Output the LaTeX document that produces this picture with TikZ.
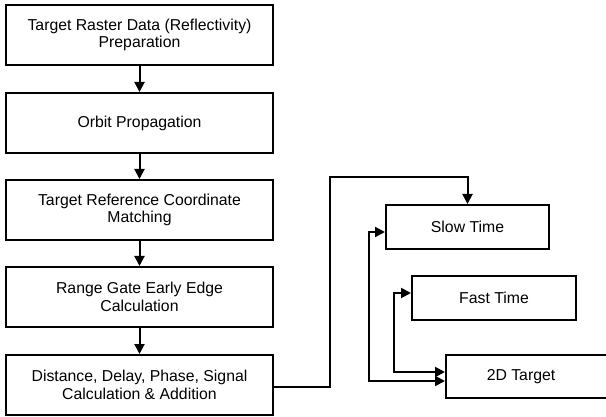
\documentclass[tikz,border=0pt]{standalone}
\usepackage{fontspec}
\setmainfont{Liberation Sans}
\usetikzlibrary{arrows.meta}
\begin{document}
\begin{tikzpicture}[x=1pt,y=-1pt,
  box/.style={draw, line width=2pt, minimum width=267pt, minimum height=60pt, align=center, inner sep=0pt, font=\fontsize{15.8}{17.5}\selectfont},
  sbox/.style={draw, line width=2pt, minimum height=44pt, align=center, inner sep=0pt, font=\fontsize{15.8}{17.5}\selectfont},
  arr/.style={line width=2pt, -{Triangle[length=10pt,width=10pt]}},
  darr/.style={line width=2pt, {Triangle[length=10pt,width=10pt]}-{Triangle[length=10pt,width=10pt]}}]
\useasboundingbox (0,0) rectangle (606,417);
\clip (0,0) rectangle (606,417);
\node[box] (b1) at (139.5,35) {Target Raster Data (Reflectivity)\\Preparation};
\node[box] (b2) at (139.5,123) {Orbit Propagation};
\node[box] (b3) at (139.5,210) {Target Reference Coordinate\\Matching};
\node[box] (b4) at (139.5,297) {Range Gate Early Edge\\Calculation};
\node[box] (b5) at (139.5,385) {Distance, Delay, Phase, Signal\\Calculation \& Addition};
\node[sbox, minimum width=163pt] (slow) at (467.5,227) {Slow Time};
\node[sbox, minimum width=164pt] (fast) at (494,298) {Fast Time};
\node[sbox, minimum width=164pt, minimum height=43pt] (tgt) at (528,376.5) {2D Target\hspace{14pt}};
\draw[arr] (b1.south) -- (b2.north);
\draw[arr] (b2.south) -- (b3.north);
\draw[arr] (b3.south) -- (b4.north);
\draw[arr] (b4.south) -- (b5.north);
\coordinate (c1) at (330,177);
\coordinate (c2) at (369,381);
\coordinate (c3) at (394,372);
\draw[arr] ([yshift=-2pt]b5.east) -| (c1) -| (slow.north);
\draw[darr] ([yshift=-5pt]slow.west) -| (c2) -- (c2 -| tgt.west);
\draw[darr] ([yshift=5pt]fast.west) -| (c3) -- (c3 -| tgt.west);
\end{tikzpicture}
\end{document}
